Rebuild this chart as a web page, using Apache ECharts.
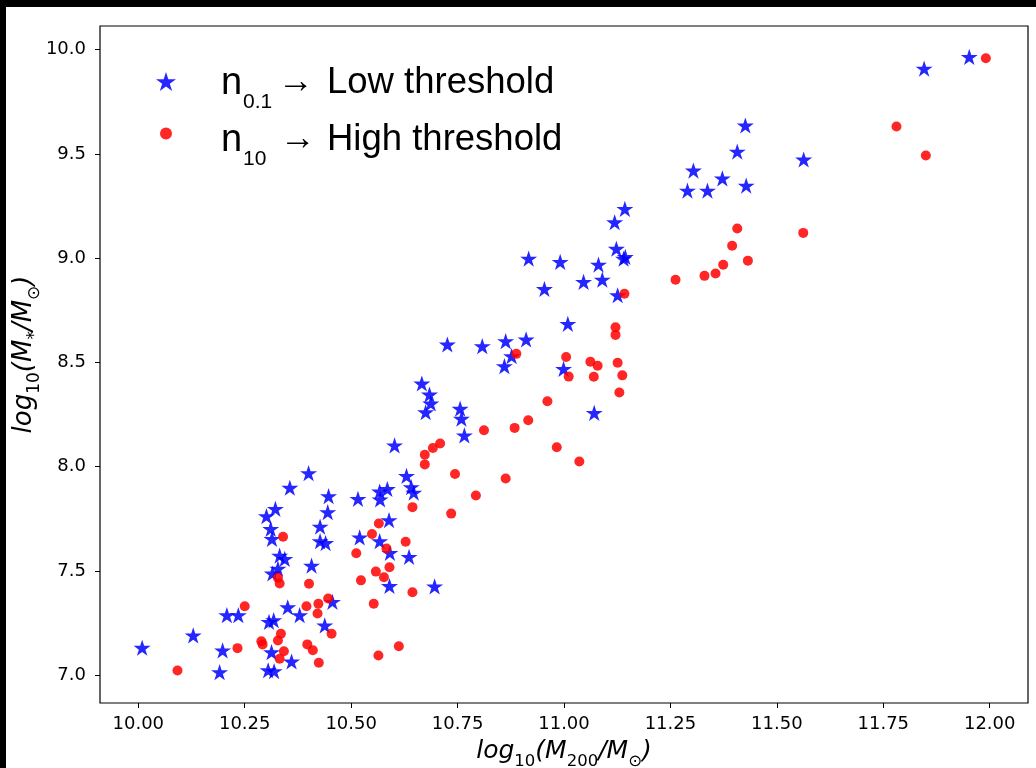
<!DOCTYPE html>
<html><head><meta charset="utf-8">
<script src="https://cdn.jsdelivr.net/npm/echarts@6/dist/echarts.min.js"></script>
<style>
html,body{margin:0;padding:0;background:#000;width:1036px;height:768px;overflow:hidden;}
#c{position:absolute;left:6px;top:7px;width:1030px;height:761px;background:#fff;}
</style></head><body><div id="c"></div>
<script>
// n_0.1 -> Low threshold (blue stars)
const lowX = [11.952,11.846,11.426,11.563,11.407,11.304,11.290,11.372,11.337,11.428,
  11.143,11.119,11.123,11.144,11.140,10.917,10.991,11.081,11.046,11.090,
  10.954,11.126,11.009,10.726,10.808,10.863,10.911,10.877,10.860,10.999,
  11.071,10.666,10.684,10.687,10.675,10.756,10.759,10.766,10.602,10.400,
  10.630,10.641,10.647,10.356,10.447,10.516,10.567,10.585,10.568,10.445,
  10.427,10.589,10.322,10.301,10.311,10.314,10.427,10.440,10.520,10.567,
  10.332,10.344,10.328,10.315,10.407,10.591,10.636,10.590,10.696,10.456,
  10.351,10.379,10.208,10.235,10.307,10.318,10.438,10.129,10.009,10.198,
  10.313,10.360,10.191,10.305,10.319];
const lowY = [9.965,9.909,9.636,9.473,9.511,9.420,9.324,9.382,9.324,9.348,
  9.236,9.172,9.045,9.006,8.997,8.998,8.982,8.969,8.886,8.897,
  8.852,8.822,8.685,8.586,8.578,8.602,8.610,8.530,8.482,8.469,
  8.258,8.399,8.346,8.303,8.261,8.278,8.230,8.150,8.102,7.969,
  7.956,7.902,7.876,7.899,7.859,7.846,7.881,7.893,7.843,7.782,
  7.713,7.744,7.798,7.763,7.702,7.654,7.643,7.634,7.661,7.643,
  7.574,7.558,7.511,7.488,7.526,7.587,7.568,7.428,7.426,7.352,
  7.326,7.288,7.288,7.288,7.256,7.264,7.239,7.191,7.132,7.119,
  7.111,7.066,7.015,7.024,7.020];
// n_10 -> High threshold (red circles)
const highX = [11.991,11.781,11.850,11.407,11.562,11.395,11.432,11.374,11.356,11.330,
  11.262,11.142,11.121,11.121,10.888,11.005,11.062,11.079,11.126,11.011,
  11.070,11.137,11.130,10.961,10.916,10.884,10.812,10.709,10.692,10.673,
  10.673,10.983,11.036,10.744,10.863,10.793,10.735,10.644,10.565,10.549,
  10.340,10.628,10.583,10.512,10.590,10.558,10.577,10.523,10.328,10.332,
  10.401,10.644,10.553,10.446,10.423,10.395,10.421,10.250,10.454,10.335,
  10.328,10.289,10.292,10.397,10.410,10.342,10.332,10.233,10.424,10.564,
  10.612,10.092];
const highY = [9.958,9.631,9.492,9.142,9.121,9.059,8.988,8.968,8.926,8.915,
  8.896,8.829,8.669,8.632,8.541,8.526,8.503,8.484,8.498,8.432,
  8.431,8.438,8.356,8.314,8.223,8.186,8.175,8.111,8.090,8.057,
  8.011,8.093,8.025,7.965,7.943,7.862,7.775,7.806,7.728,7.677,
  7.664,7.640,7.608,7.585,7.518,7.497,7.470,7.455,7.467,7.440,
  7.439,7.398,7.343,7.368,7.343,7.331,7.296,7.331,7.199,7.199,
  7.167,7.163,7.148,7.148,7.120,7.115,7.079,7.130,7.060,7.095,
  7.139,7.023];
const xTickValues = [10.00,10.25,10.50,10.75,11.00,11.25,11.50,11.75,12.00];
const xTickLabels = ['10.00','10.25','10.50','10.75','11.00','11.25','11.50','11.75','12.00'];
const yTickValues = [7.0,7.5,8.0,8.5,9.0,9.5,10.0];
const yTickLabels = ['7.0','7.5','8.0','8.5','9.0','9.5','10.0'];
const legendNames = ['low','high'];

const STAR = 'path://M100 0 L122.45 69.1 L195.1 69.1 L136.3 111.8 L158.8 180.9 L100 138.2 L41.2 180.9 L63.7 111.8 L4.9 69.1 L77.55 69.1 Z';
const chart = echarts.init(document.getElementById('c'), null, {renderer:'canvas'});

function nameRich(fs, ss, pad){
  return {
    i:{fontFamily:'DejaVu Sans',fontStyle:'italic',fontSize:fs,lineHeight:fs+4,verticalAlign:'top',color:'#000'},
    s:{fontFamily:'DejaVu Sans',fontSize:ss,lineHeight:ss,verticalAlign:'top',padding:[pad,0,0,0],color:'#000'}
  };
}
function legRich(a, padL, wn, ws, wa){
  return {
    n:{fontFamily:'Liberation Sans',fontSize:38,lineHeight:40,verticalAlign:'top',padding:[a,0,0,padL],width:wn,color:'#000'},
    s:{fontFamily:'Liberation Sans',fontSize:21,lineHeight:21,verticalAlign:'top',padding:[a+27,0,0,0],width:ws,color:'#000'},
    a:{fontFamily:'Liberation Sans',fontSize:36,lineHeight:40,verticalAlign:'top',padding:[a,0,0,0],width:wa,color:'#000'},
    t:{fontFamily:'Liberation Sans',fontSize:36.5,lineHeight:40,verticalAlign:'top',padding:[a,0,0,0],color:'#000'}
  };
}
function fmtLabel(values, labels){
  return function(v){
    for (let k=0;k<values.length;k++) if (Math.abs(values[k]-v)<1e-6) return labels[k];
    return '';
  };
}

chart.setOption({
  animation:false,
  backgroundColor:'#fff',
  grid:{left:94,top:19,right:8,bottom:65,outerBoundsMode:'none',containLabel:false,show:true,borderColor:'#000',borderWidth:1.2,backgroundColor:'transparent'},
  xAxis:{
    type:'value',min:9.91,max:12.09,
    axisLine:{show:false,onZero:false},
    splitLine:{show:false},
    axisTick:{show:true,customValues:xTickValues,length:5,lineStyle:{color:'#000',width:1}},
    axisLabel:{customValues:xTickValues,formatter:fmtLabel(xTickValues,xTickLabels),fontFamily:'DejaVu Sans',fontSize:18,color:'#000',margin:12},
    name:'{i|log}{s|10}{i|(M}{s|200}{i|/M}{s|⊙}{i|)}',
    nameLocation:'middle',nameGap:36,nameMoveOverlap:false,
    nameTextStyle:{rich:nameRich(25,16.5,14)}
  },
  yAxis:{
    type:'value',min:6.867,max:10.113,
    axisLine:{show:false,onZero:false},
    splitLine:{show:false},
    axisTick:{show:true,customValues:yTickValues,length:5,lineStyle:{color:'#000',width:1}},
    axisLabel:{customValues:yTickValues,formatter:fmtLabel(yTickValues,yTickLabels),fontFamily:'DejaVu Sans',fontSize:18,color:'#000',margin:14},
    name:'{i|log}{s|10}{i|(M}{s|*}{i|/M}{s|⊙}{i|)}',
    nameLocation:'middle',nameGap:59,nameMoveOverlap:false,
    nameTextStyle:{rich:nameRich(26,17,15),padding:[0,0,0,20]}
  },
  legend:[
    {data:[legendNames[0]],left:150,top:54.5,padding:0,itemWidth:20,itemHeight:19,selectedMode:false,
     formatter:function(){return '{n|n}{s|0.1}{a|→}{t|Low threshold}';},
     textStyle:{rich:legRich(2.9,40,22,35,49)}},
    {data:[legendNames[1]],left:154,top:106.6,padding:0,itemWidth:12,itemHeight:12,selectedMode:false,
     formatter:function(){return '{n|n}{s|10}{a|→}{t|High threshold}';},
     textStyle:{rich:legRich(7.9,44,22,37,47)}}
  ],
  series:[
    {type:'scatter',name:legendNames[0],data:lowX.map((x,i)=>[x,lowY[i]]),symbol:STAR,symbolSize:[17,16.2],
     itemStyle:{color:'#0000ff',opacity:0.85}},
    {type:'scatter',name:legendNames[1],data:highX.map((x,i)=>[x,highY[i]]),symbol:'circle',symbolSize:10,
     itemStyle:{color:'#ff0000',opacity:0.85}}
  ]
});
</script></body></html>
